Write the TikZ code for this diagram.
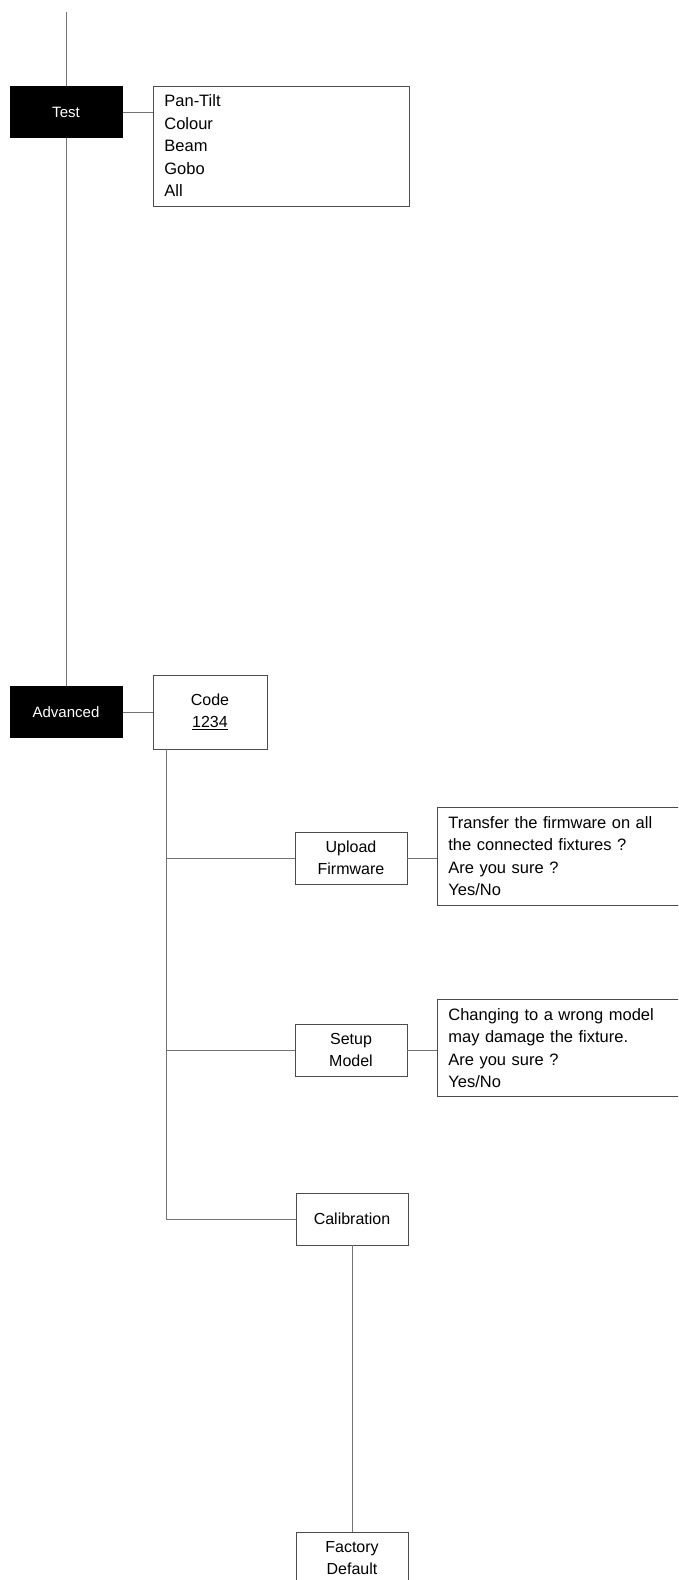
\documentclass[tikz,border=0pt]{standalone}
\usepackage{fontspec}
\setmainfont{Liberation Sans}

\begin{document}
\begin{tikzpicture}
[x=1pt, y=-1pt, line width=0.8pt,
every node/.style = {align=center, font=\fontsize{16}{22}\selectfont}]
\tikzstyle{menu} = [rectangle, fill=black, text=white, minimum width=113pt, minimum height=52pt, font=\fontsize{15}{20}\selectfont]
\tikzstyle{item} = [rectangle, draw=black!70, fill=white, minimum width=112pt, minimum height=52pt]
\tikzstyle{msg} = [rectangle, draw=black!70, align=left, anchor=west, inner xsep=11pt, font=\fontsize{16.5}{22.5}\selectfont]
\tikzstyle{wire} = [draw=black!55]

\useasboundingbox (0,0) rectangle (678,1580);
\clip (0,0) rectangle (678,1580);

\node[menu] (test) at (66,112) {Test};
\node[msg, text width=234pt, minimum height=120pt] (testlist) at (153,146) {Pan-Tilt\\Colour\\Beam\\Gobo\\All};

\node[menu] (adv) at (66,712) {Advanced};
\node[item, minimum width=114pt, minimum height=74pt] (code) at (210,712) {Code\\\underline{1234}};

\node[item] (upload) at (351,858) {Upload\\Firmware};
\node[msg, text width=250pt, minimum height=98pt] (uploadmsg) at (437,856) {Transfer the firmware on all\\the connected fixtures ?\\Are you sure ?\\Yes/No};

\node[item] (setup) at (351,1050) {Setup\\Model};
\node[msg, text width=250pt, minimum height=97pt] (setupmsg) at (437,1048) {Changing to a wrong model\\may damage the fixture.\\Are you sure ?\\Yes/No};

\node[item] (calib) at (352,1219) {Calibration};
\node[item] (factory) at (352,1558) {Factory\\Default};

% connectors
\coordinate (top) at (66,12);
\coordinate (split) at ([xshift=14pt]code.south west);
\draw[wire] (top) -- (test);
\draw[wire] (test) -- (adv);
\draw[wire] (test) -- (test -| testlist.west);
\draw[wire] (adv) -- (code);
\draw[wire] (split) |- (calib);
\draw[wire] (split |- upload) -- (upload);
\draw[wire] (split |- setup) -- (setup);
\draw[wire] (upload) -- (upload -| uploadmsg.west);
\draw[wire] (setup) -- (setup -| setupmsg.west);
\draw[wire] (calib) -- (factory);

\end{tikzpicture}
\end{document}
